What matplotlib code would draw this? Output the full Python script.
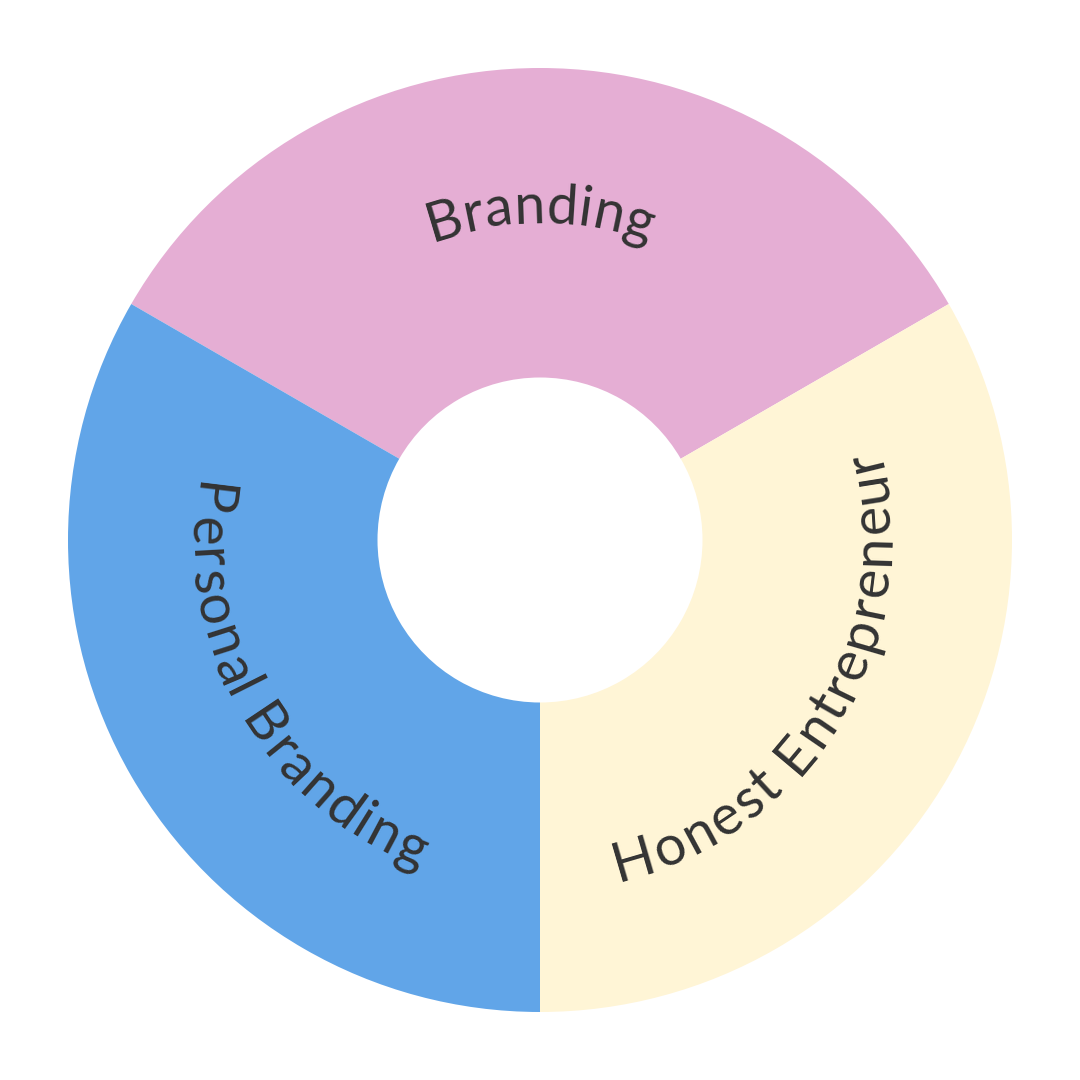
import matplotlib.pyplot as plt
import numpy as np

labels = ['Branding', 'Personal Branding', 'Honest Entrepreneur']
values = [1, 1, 1]
colors = ['#E5AED4', '#61A5E8', '#FFF5D6']

FONT = 'Lato'
FS = 40
TEXT_COLOR = '#333333'
TRACK = 1.5  # extra px between letters

fig = plt.figure(figsize=(10.8, 10.8), dpi=100)
ax = fig.add_axes([0, 0, 1, 1])

R = 472.0          # outer radius in px
R_IN = 162.5       # inner radius in px
lim = 540.0 / R

ax.pie(values, colors=colors, startangle=30, counterclock=True, radius=1,
       wedgeprops=dict(width=(R - R_IN) / R, linewidth=0))
ax.set_xlim(-lim, lim)
ax.set_ylim(-lim, lim)
ax.set_aspect('equal')
ax.axis('off')

renderer = fig.canvas.get_renderer()


def text_w(s):
    t = fig.text(0, 0, s, fontsize=FS, family=FONT)
    w = t.get_window_extent(renderer).width
    t.remove()
    return w


def curved_text(s, mid_deg, r_px, outward=True):
    bar = text_w('|')
    pref = [text_w(s[:i] + '|') - bar + i * TRACK for i in range(len(s) + 1)]
    total = pref[-1] - TRACK
    r = r_px / R
    # letters are spaced along the middle of the x-height
    r_arc = r_px + 14 if outward else r_px - 14
    for i, ch in enumerate(s):
        if ch == ' ':
            continue
        c = (pref[i] + pref[i + 1] - TRACK) / 2
        off = np.degrees((total / 2 - c) / r_arc)
        if outward:
            th = mid_deg + off
            rot = th - 90
        else:
            th = mid_deg - off
            rot = th + 90
        x = r * np.cos(np.radians(th))
        y = r * np.sin(np.radians(th))
        ax.text(x, y, ch, fontsize=FS, family=FONT, color=TEXT_COLOR,
                rotation=rot, rotation_mode='anchor', ha='center', va='baseline')


# label centres follow the slice middles
curved_text(labels[0], 90, 317, outward=True)
curved_text(labels[1], 210, 350, outward=False)
curved_text(labels[2], 329, 350, outward=False)

fig.savefig('out.png', dpi=100, facecolor='white')
